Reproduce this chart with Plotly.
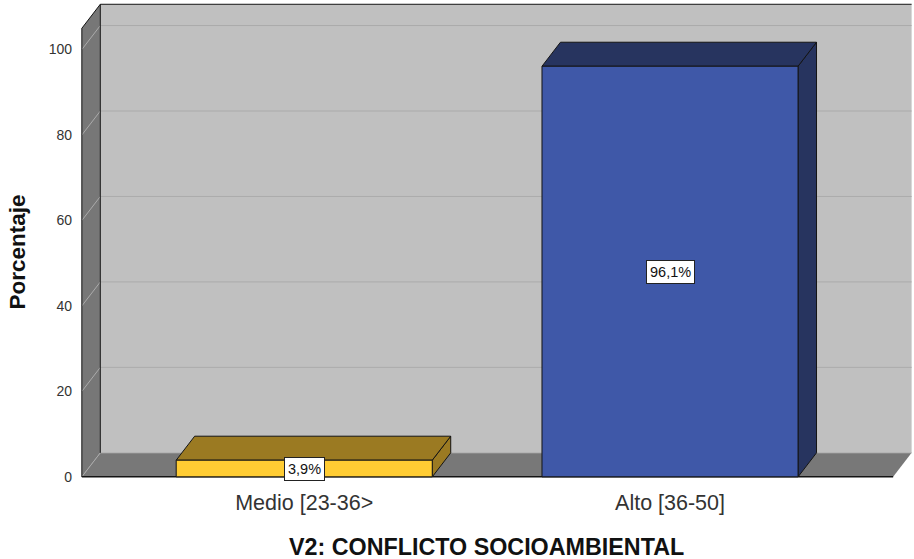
import plotly.graph_objects as go

# ---- data ----
categories = ["Medio [23-36>", "Alto [36-50]"]
percentages = [3.9, 96.1]
value_labels = ["3,9%", "96,1%"]
y_ticks = [0, 20, 40, 60, 80, 100]
y_title = "Porcentaje"
x_title = "V2: CONFLICTO SOCIOAMBIENTAL"

# ---- style ----
front_colors = ["#FFCC33", "#3F58A8"]
shade_colors = ["#9B7A22", "#27345F"]
WALL_BACK = "#C0C0C0"
WALL_SIDE = "#777777"
GRID = "#ABABAB"
EDGE = "#141414"
FONT = "Arial, Liberation Sans, sans-serif"

BAR_W = 0.7          # bar width in category units
DX = 0.0505          # depth offset (x units)
DY = 5.62            # depth offset (y units)
X0, X1 = -0.608, 1.61
Y_TOP = 110.6
WALL_TOP = Y_TOP - DY

fig = go.Figure()


def poly(xs, ys, fill, line=EDGE, width=1):
    fig.add_trace(go.Scatter(
        x=list(xs) + [xs[0]], y=list(ys) + [ys[0]], mode="lines",
        fill="toself", fillcolor=fill,
        line=dict(color=line, width=width),
        hoverinfo="skip", showlegend=False))


def seg(xs, ys, color=EDGE, width=1):
    fig.add_trace(go.Scatter(
        x=xs, y=ys, mode="lines", line=dict(color=color, width=width),
        hoverinfo="skip", showlegend=False))


# floor
poly([X0, X1, X1 + DX, X0 + DX], [0, 0, DY, DY], "#787878", line="rgba(0,0,0,0)", width=0)
# back wall
poly([X0 + DX, X1 + DX, X1 + DX, X0 + DX], [DY, DY, Y_TOP, Y_TOP], WALL_BACK,
     line="rgba(0,0,0,0)", width=0)
# side wall
poly([X0, X0 + DX, X0 + DX, X0], [0, DY, Y_TOP, WALL_TOP], WALL_SIDE,
     line="rgba(0,0,0,0)", width=0)

# gridlines on side and back walls
for v in y_ticks:
    seg([X0, X0 + DX, X1 + DX], [v, v + DY, v + DY], GRID, 1)

# frame edges
seg([X0, X0], [0, WALL_TOP])
seg([X0, X0 + DX, X1 + DX], [WALL_TOP, Y_TOP, Y_TOP])
seg([X0 + DX, X0 + DX], [DY, Y_TOP])
seg([X0, X1], [0, 0], width=1.5)

# 3D bars
for i, (cat, v) in enumerate(zip(categories, percentages)):
    xl, xr = i - BAR_W / 2, i + BAR_W / 2
    # right side face
    poly([xr, xr + DX, xr + DX, xr], [0, DY, v + DY, v], shade_colors[i])
    # top face
    poly([xl, xr, xr + DX, xl + DX], [v, v, v + DY, v + DY], shade_colors[i])
    # front face
    poly([xl, xr, xr, xl], [0, 0, v, v], front_colors[i])
    fig.add_annotation(
        x=i, y=v / 2, text=value_labels[i], showarrow=False,
        bgcolor="white", bordercolor="#222222", borderwidth=1, borderpad=3,
        font=dict(family=FONT, size=14.5, color="#111111"))

fig.add_annotation(
    text=f"<b>{y_title}</b>", xref="paper", yref="paper", x=-0.0755, y=0.476,
    xanchor="center", yanchor="middle",
    textangle=-90, showarrow=False,
    font=dict(family=FONT, size=22.5, color="#111111"))
fig.add_annotation(
    text=f"<b>{x_title}</b>", xref="paper", yref="paper", x=0.488, y=-0.142,
    xanchor="center", yanchor="middle",
    showarrow=False, font=dict(family=FONT, size=23.3, color="#111111"))

fig.update_layout(
    width=914, height=559,
    margin=dict(l=80, r=0, t=3, b=80),
    paper_bgcolor="white", plot_bgcolor="white",
    xaxis=dict(range=[-0.613, 1.667], tickmode="array", tickvals=[0, 1],
               ticktext=categories, showgrid=False, zeroline=False,
               showline=False, ticks="", ticklabelstandoff=8,
               tickfont=dict(family=FONT, size=21.5, color="#333333"),
               fixedrange=True),
    yaxis=dict(range=[-0.5, 110.9], tickmode="array", tickvals=y_ticks,
               showgrid=False, zeroline=False, showline=False, ticks="",
               ticklabelstandoff=7,
               tickfont=dict(family=FONT, size=14, color="#333333"),
               fixedrange=True),
)

fig.write_html("out.html", config={"displayModeBar": False},
               post_script="document.body.style.margin='0';")
